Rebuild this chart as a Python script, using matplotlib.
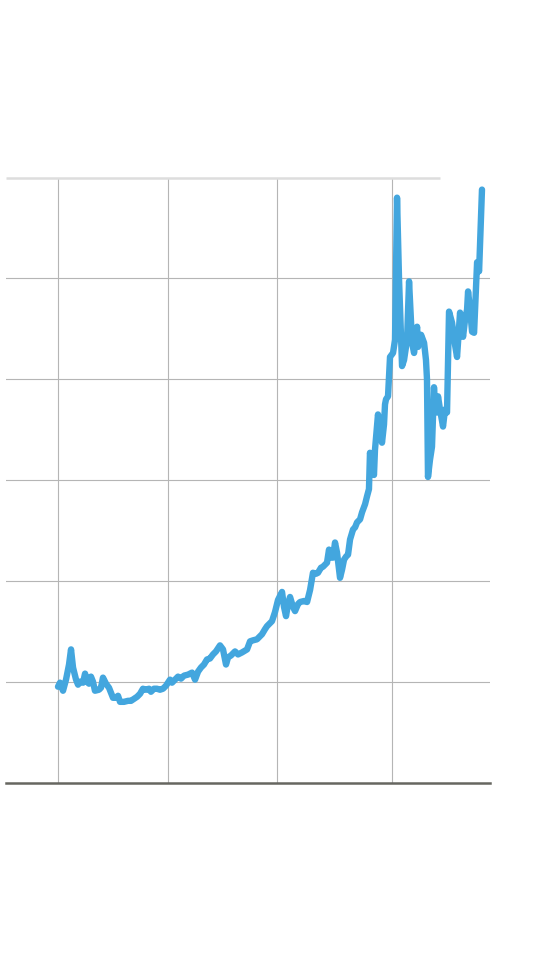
import numpy as np
import matplotlib.pyplot as plt

# serie (ano decimal, valor)
anos = [1980.00, 1980.18, 1980.45, 1980.72, 1980.99, 1981.17, 1981.35, 1981.62, 1981.80, 1981.98,
        1982.25, 1982.43, 1982.60, 1982.78, 1982.96, 1983.14, 1983.32, 1983.68, 1983.86, 1984.04,
        1984.31, 1984.58, 1984.76, 1984.94, 1985.21, 1985.39, 1985.57, 1985.93, 1986.29, 1986.56,
        1986.83, 1987.10, 1987.37, 1987.63, 1987.90, 1988.17, 1988.35, 1988.62, 1988.89, 1989.16,
        1989.43, 1989.70, 1990.06, 1990.24, 1990.51, 1990.78, 1991.05, 1991.32, 1991.68, 1992.04,
        1992.31, 1992.58, 1992.84, 1993.11, 1993.38, 1993.65, 1993.92, 1994.19, 1994.55, 1994.82,
        1995.09, 1995.27, 1995.54, 1995.90, 1996.17, 1996.53, 1996.98, 1997.25, 1997.52, 1997.87,
        1998.32, 1998.59, 1998.77, 1999.22, 1999.49, 1999.76, 2000.12, 2000.30, 2000.48, 2000.66,
        2000.84, 2001.11, 2001.29, 2001.56, 2001.74, 2002.10, 2002.37, 2002.64, 2002.90, 2003.17,
        2003.35, 2003.62, 2003.80, 2004.16, 2004.34, 2004.52, 2004.70, 2004.88, 2005.06, 2005.33,
        2005.51, 2005.69, 2005.87, 2006.05, 2006.23, 2006.50, 2006.68, 2006.86, 2007.13, 2007.31,
        2007.58, 2007.76, 2007.93, 2008.02, 2008.20, 2008.38, 2008.47, 2008.65, 2008.74, 2008.92,
        2009.10, 2009.28, 2009.37, 2009.46, 2009.64, 2009.82, 2010.09, 2010.27, 2010.45, 2010.63,
        2010.90, 2011.08, 2011.35, 2011.53, 2011.80, 2011.98, 2012.25, 2012.34, 2012.61, 2012.88,
        2013.05, 2013.14, 2013.23, 2013.41, 2013.59, 2013.77, 2013.86, 2014.04, 2014.13, 2014.31,
        2014.58, 2014.76, 2014.94, 2015.12, 2015.39, 2015.66, 2015.84, 2016.11, 2016.38, 2016.56,
        2016.74, 2016.83, 2017.01, 2017.19, 2017.37, 2017.64, 2017.82, 2018.08]

valores = [0.95, 0.99, 0.91, 1.02, 1.17, 1.32, 1.14, 1.02, 0.97, 1.00,
           0.99, 1.08, 1.00, 0.98, 1.05, 1.00, 0.91, 0.92, 0.94, 1.04,
           0.98, 0.94, 0.89, 0.84, 0.84, 0.86, 0.80, 0.80, 0.81, 0.81,
           0.83, 0.85, 0.88, 0.93, 0.92, 0.93, 0.90, 0.93, 0.93, 0.92,
           0.93, 0.96, 1.02, 0.99, 1.02, 1.05, 1.03, 1.06, 1.07, 1.09,
           1.02, 1.10, 1.14, 1.17, 1.22, 1.23, 1.27, 1.30, 1.36, 1.32,
           1.17, 1.24, 1.26, 1.30, 1.27, 1.29, 1.32, 1.40, 1.41, 1.42,
           1.47, 1.52, 1.55, 1.60, 1.69, 1.81, 1.89, 1.74, 1.65, 1.77,
           1.84, 1.74, 1.70, 1.77, 1.79, 1.80, 1.79, 1.91, 2.08, 2.07,
           2.08, 2.13, 2.14, 2.18, 2.31, 2.23, 2.23, 2.38, 2.28, 2.03,
           2.11, 2.21, 2.24, 2.26, 2.41, 2.51, 2.53, 2.58, 2.61, 2.68,
           2.76, 2.84, 2.91, 3.27, 3.15, 3.05, 3.30, 3.53, 3.65, 3.50,
           3.37, 3.55, 3.75, 3.80, 3.83, 4.22, 4.26, 4.39, 5.80, 4.99,
           4.13, 4.19, 4.39, 4.97, 4.36, 4.26, 4.52, 4.32, 4.44, 4.36,
           4.19, 4.00, 3.03, 3.20, 3.33, 3.92, 3.75, 3.67, 3.83, 3.70,
           3.53, 3.70, 3.67, 4.67, 4.56, 4.34, 4.22, 4.66, 4.42, 4.59,
           4.69, 4.87, 4.69, 4.47, 4.46, 5.16, 5.07, 5.88]

grade_x = [1980, 1989.88, 1999.67, 2010]  # linhas verticais
grade_y = [1, 2, 3, 4, 5]                 # linhas horizontais

fig = plt.figure(figsize=(5.6, 9.7), dpi=100)
ax = fig.add_axes([6/560, 186.5/970, 484/560, 605/970])

ax.set_xlim(1975.33, 2018.80)
ax.set_ylim(0, 6)

for gx in grade_x:
	ax.axvline(gx, color='#b5b5b5', lw=0.8, zorder=1)
for gy in grade_y:
	ax.axhline(gy, color='#b5b5b5', lw=0.8, zorder=1)
ax.hlines(6, 1975.33, 2014.3, color='#dddddd', lw=1.8, zorder=1, clip_on=False)  # linha do topo
ax.axhline(0, color='#666660', lw=1.8, zorder=2, clip_on=False)  # linha base

ax.plot(anos, valores, color='#43a6de', lw=4.6, solid_joinstyle='round', solid_capstyle='round', zorder=3, clip_on=False)

for s in ax.spines.values():
	s.set_visible(False)
ax.set_xticks([])
ax.set_yticks([])

plt.savefig('out.png', dpi=100)
